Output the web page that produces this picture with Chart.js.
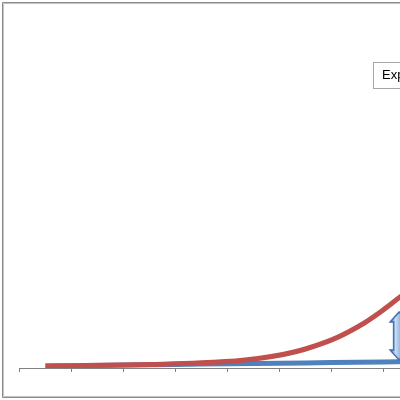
<!DOCTYPE html>
<html>
<head>
<meta charset="utf-8">
<script src="https://cdn.jsdelivr.net/npm/chart.js@4.4.1/dist/chart.umd.min.js"></script>
<style>
html,body{margin:0;padding:0;background:#fff;overflow:hidden;width:400px;height:400px;}
#wrap{position:absolute;left:0;top:0;width:480px;height:400px;}
</style>
</head>
<body>
<div id="wrap"><canvas id="c" width="480" height="400"></canvas></div>
<script>
const categories = ["1","2","3","4","5","6","7","8"];
const exponentialValues = [0.57, 0.78, 1.03, 1.49, 2.59, 5.46, 11.78, 22.41];
const linearValues = [0.57, 0.75, 0.92, 1.12, 1.29, 1.47, 1.67, 1.84];
const yMax = 100;
const legendText = "Exponential Growth";
// gap annotation (double arrow) between the two series
const arrowAt = 6.8;
const arrowFrom = 2.3;
const arrowTo = 16.1;

const decor = {
  id: 'decor',
  beforeDraw(chart) {
    const ctx = chart.ctx;
    ctx.save();
    ctx.fillStyle = '#fff';
    ctx.fillRect(0, 0, chart.width, chart.height);
    ctx.lineWidth = 1;
    ctx.strokeStyle = '#8a8a8a';
    ctx.beginPath();
    ctx.moveTo(chart.width, 2.5); ctx.lineTo(2.5, 2.5); ctx.lineTo(2.5, 397.5); ctx.lineTo(chart.width, 397.5);
    ctx.stroke();
    ctx.strokeStyle = '#c4c4c4';
    ctx.beginPath();
    ctx.moveTo(chart.width, 3.5); ctx.lineTo(3.5, 3.5); ctx.lineTo(3.5, 396.5); ctx.lineTo(chart.width, 396.5);
    ctx.stroke();
    ctx.restore();
  },
  afterDatasetsDraw(chart) {
    const ctx = chart.ctx;
    const xs = chart.scales.x, ys = chart.scales.y;
    const cx = xs.getPixelForValue(arrowAt);
    const yTop = ys.getPixelForValue(arrowTo);
    const yBot = ys.getPixelForValue(arrowFrom);
    const hw = 9, sw = 5.5, hh = 10;
    ctx.save();
    ctx.beginPath();
    ctx.moveTo(cx, yTop);
    ctx.lineTo(cx + hw, yTop + hh);
    ctx.lineTo(cx + sw, yTop + hh);
    ctx.lineTo(cx + sw, yBot - hh);
    ctx.lineTo(cx + hw, yBot - hh);
    ctx.lineTo(cx, yBot);
    ctx.lineTo(cx - hw, yBot - hh);
    ctx.lineTo(cx - sw, yBot - hh);
    ctx.lineTo(cx - sw, yTop + hh);
    ctx.lineTo(cx - hw, yTop + hh);
    ctx.closePath();
    const g = ctx.createLinearGradient(cx - hw, 0, cx + hw, 0);
    g.addColorStop(0, '#3a6eb0');
    g.addColorStop(0.3, '#c9dcf2');
    g.addColorStop(0.6, '#8fb1dc');
    g.addColorStop(1, '#4a7cbc');
    ctx.fillStyle = g;
    ctx.fill();
    ctx.strokeStyle = '#3f72b3';
    ctx.lineWidth = 1.5;
    ctx.stroke();
    ctx.restore();

    // legend text box
    ctx.save();
    ctx.fillStyle = '#fff';
    ctx.fillRect(373.5, 62.5, 140, 26);
    ctx.strokeStyle = '#a6a6a6';
    ctx.lineWidth = 1;
    ctx.strokeRect(373.5, 62.5, 140, 26);
    ctx.fillStyle = '#000';
    ctx.font = '13px "Liberation Sans", Arial, sans-serif';
    ctx.textBaseline = 'middle';
    ctx.fillText(legendText, 382, 75.5);
    ctx.restore();
  }
};

new Chart(document.getElementById('c'), {
  type: 'line',
  data: {
    labels: categories,
    datasets: [
      {
        label: 'Linear',
        data: linearValues,
        borderColor: '#4f81bd',
        borderWidth: 5,
        pointRadius: 0,
        tension: 0.4,
        borderCapStyle: 'butt',
        order: 2
      },
      {
        label: 'Exponential',
        data: exponentialValues,
        borderColor: '#c0504d',
        borderWidth: 5,
        pointRadius: 0,
        tension: 0.4,
        borderCapStyle: 'butt',
        order: 1
      }
    ]
  },
  options: {
    responsive: false,
    animation: false,
    layout: { padding: { left: 19.5, right: 44.5, top: 20, bottom: 28 } },
    plugins: { legend: { display: false }, tooltip: { enabled: false } },
    scales: {
      x: {
        offset: true,
        grid: { offset: true, drawOnChartArea: false, drawTicks: true, tickLength: 4, color: '#808080' },
        border: { display: true, color: '#808080', width: 1 },
        ticks: { display: false }
      },
      y: {
        display: false,
        min: 0,
        max: yMax
      }
    }
  },
  plugins: [decor]
});
</script>
</body>
</html>
